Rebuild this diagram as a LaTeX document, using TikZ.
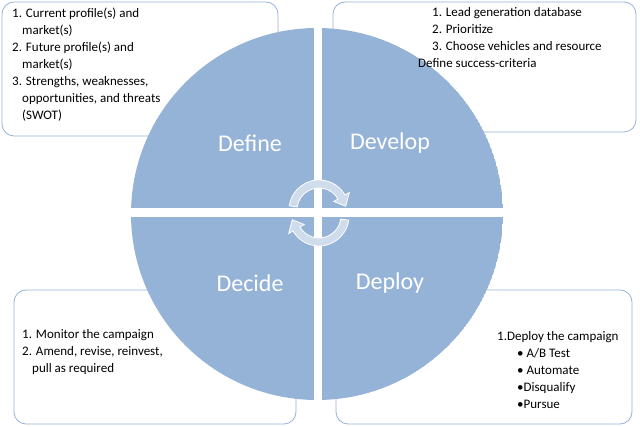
\documentclass[tikz,border=0pt]{standalone}
\usepackage{fontspec}
\setmainfont{Carlito}
\definecolor{qb}{HTML}{95B3D7}
\definecolor{af}{HTML}{CFDCEB}
\begin{document}
\begin{tikzpicture}[x=1pt,y=-1pt,
  box/.style={draw=qb,line width=0.8pt,rounded corners=12pt,fill=white},
  txt/.style={anchor=north west,align=left,font=\fontsize{13}{17}\selectfont,inner sep=0pt},
  lab/.style={font=\fontsize{24}{26}\selectfont,text=white},
  arr/.style={fill=af,draw=white,line width=0.8pt}]
\useasboundingbox (0,0) rectangle (640,427);
\draw[box] (2,2) rectangle (278,136);
\draw[box] (333,2) rectangle (636,132);
\draw[box] (14,290) rectangle (296,424);
\draw[box] (336,290) rectangle (632,424);
\begin{scope}
\clip (317,214) circle (186);
\fill[qb] (317,214) circle (186);
\fill[white] (314,0) rectangle (322,427);
\fill[white] (0,208) rectangle (640,217);
\end{scope}
\node[txt] (tl) at (12,8) {1. Current profile(s) and\\\hspace{10pt}market(s)\\2. Future profile(s) and\\\hspace{10pt}market(s)\\3. Strengths, weaknesses,\\\hspace{10pt}opportunities, and threats\\\hspace{10pt}(SWOT)};
\node[txt] (tr) at (418,7) {\hspace{14pt}1. Lead generation database\\\hspace{14pt}2. Prioritize\\\hspace{14pt}3. Choose vehicles and resource\\Define success-criteria};
\node[txt] (bl) at (22,329) {1. Monitor the campaign\\2. Amend, revise, reinvest,\\\hspace{10pt}pull as required};
\node[txt] (br) at (497,331) {1.Deploy the campaign\\\hspace{20pt}• A/B Test\\\hspace{20pt}• Automate\\\hspace{20pt}•Disqualify\\\hspace{20pt}•Pursue};
\node[lab] (def) at (250,143) {Define};
\node[lab] (dev) at (390,143) {Develop};
\node[lab] (dec) at (250,283) {Decide};
\node[lab] (dep) at (390,283) {Deploy};
\begin{scope}[shift={(319,210)}]
\draw[arr] (172:30pt) arc[start angle=172,end angle=30,radius=30pt] -- (30:35pt) -- (8:27pt) -- (30:17pt) -- (30:22pt) arc[start angle=30,end angle=172,radius=22pt] -- cycle;
\end{scope}
\begin{scope}[shift={(319,216)}]
\draw[arr] (352:30pt) arc[start angle=352,end angle=210,radius=30pt] -- (210:35pt) -- (188:27pt) -- (210:17pt) -- (210:22pt) arc[start angle=210,end angle=352,radius=22pt] -- cycle;
\end{scope}
\end{tikzpicture}
\end{document}
